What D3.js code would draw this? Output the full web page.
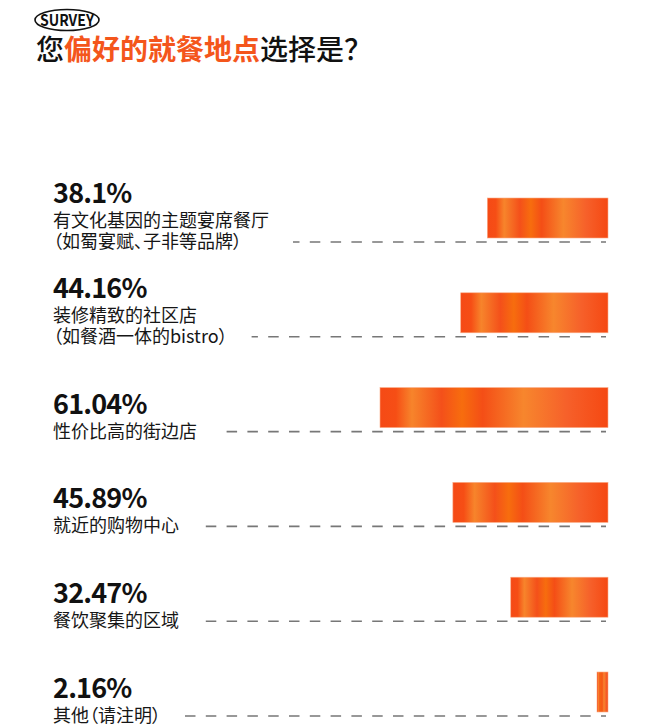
<!DOCTYPE html>
<html>
<head>
<meta charset="utf-8">
<script src="https://d3js.org/d3.v7.min.js"></script>
<style>
  body { margin: 0; background: #fff; }
  text { font-family: "Noto Sans CJK SC", "Noto Sans", sans-serif; }
</style>
</head>
<body>
<svg class="target"></svg>
<script>

width = 660
height = 728

// survey answers, top to bottom (percent of respondents)
pcts = [38.1, 44.16, 61.04, 45.89, 32.47, 2.16]

// option text, first and second line
labelLine1 = ['有文化基因的主题宴席餐厅', '装修精致的社区店', '性价比高的街边店', '就近的购物中心', '餐饮聚集的区域', '其他（请注明）']
labelLine2 = ['（如蜀宴赋、子非等品牌）', '（如餐酒一体的bistro）', '', '', '', '']

// title pieces: plain / highlighted / plain
titleParts = ['您', '偏好的就餐地点', '选择是？']

accent = '#f4561c'
barRight = 608   // bars grow leftwards from here
dashEnd = 606

const svg = d3.select('.target')
    .attr('width', width)
    .attr('height', height)

svg.append('rect')
    .attr('width', width)
    .attr('height', height)
    .attr('fill', '#fff')

// stripey orange gradient, stretches with each bar
const grad = svg.append('defs')
  .append('linearGradient')
    .attr('id', 'barGrad')
    .attr('x1', '0%').attr('x2', '100%')
    .attr('y1', '0%').attr('y2', '0%')

grad.selectAll('stop')
  .data([
    [0, '#f54a16'], [0.07, '#f64e15'], [0.14, '#f7842b'], [0.27, '#f4501a'],
    [0.36, '#f76d0e'], [0.45, '#f44e16'], [0.63, '#f7862d'], [0.82, '#f6602a'], [1, '#f54812']
  ])
  .join('stop')
    .attr('offset', d => d[0])
    .attr('stop-color', d => d[1])

// bar length scale - the original isn't quite linear, a mild power fits it
x = d3.scalePow()
    .exponent(1.35)
    .domain([0, d3.max(pcts)])
    .range([0, 228])

// row baseline (where the dashed leader sits)
y = d3.scalePoint()
    .domain(d3.range(pcts.length))
    .range([242, 716])

// ---- header ----
const badge = svg.append('g').attr('transform', 'translate(67,20)')
badge.append('ellipse')
    .attr('rx', 32)
    .attr('ry', 10.5)
    .attr('fill', 'none')
    .attr('stroke', '#111')
    .attr('stroke-width', 1.6)
badge.append('text')
    .attr('text-anchor', 'middle')
    .attr('y', 6)
    .attr('textLength', 54)
    .attr('lengthAdjust', 'spacingAndGlyphs')
    .style('font-size', '16px')
    .style('font-weight', 700)
    .attr('fill', '#111')
    .text('SURVEY')

svg.append('text')
    .attr('x', 36)
    .attr('y', 60)
    .style('font-size', '28px')
  .selectAll('tspan')
  .data(titleParts)
  .join('tspan')
    .attr('fill', (d, i) => i == 1 ? accent : '#111')
    .style('font-weight', (d, i) => i == 1 ? 700 : 500)
    .text(d => d)

// ---- rows ----
const row = svg.selectAll('g.row')
  .data(pcts)
  .join('g')
    .attr('class', 'row')
    .attr('transform', (d, i) => `translate(0,${ y(i) })`)

row.append('rect')
    .attr('x', d => barRight - Math.max(11, x(d)))   // keep the tiny one visible
    .attr('y', -44)
    .attr('width', d => Math.max(11, x(d)))
    .attr('height', 40)
    .attr('fill', 'url(#barGrad)')
    .attr('stroke', '#fbab85')
    .attr('stroke-width', 0.6)

row.each((d, i, arr) => {
  const g = d3.select(arr[i])
  const lines = [labelLine1[i], labelLine2[i]].filter(s => s)
  const first = 6 - 21 * (lines.length - 1)   // baseline of first option line

  g.append('text')
      .attr('x', 53)
      .attr('y', first - 24)
      .style('font-size', '27px')
      .style('font-weight', 700)
      .style('letter-spacing', '-0.8px')
      .attr('fill', '#111')
      .text(d + '%')

  let textEnd = 0
  lines.forEach((s, j) => {
    const t = g.append('text')
        .attr('x', 53)
        .attr('y', first + 21 * j)
        .style('font-size', '18px')
        .style('font-feature-settings', '"palt"')
        .attr('fill', '#161616')
        .text(s)
    textEnd = Math.max(textEnd, 53 + t.node().getComputedTextLength())
  })

  // dashed leader, drawn right to left so the pattern lines up at the bar end
  g.append('line')
      .attr('x1', dashEnd)
      .attr('x2', textEnd + 24)
      .attr('y1', 0)
      .attr('y2', 0)
      .attr('stroke', '#777')
      .attr('stroke-width', 1.6)
      .attr('stroke-dasharray', '10.5 10.3')
      .attr('stroke-dashoffset', 5.5)
})

</script>
</body>
</html>
